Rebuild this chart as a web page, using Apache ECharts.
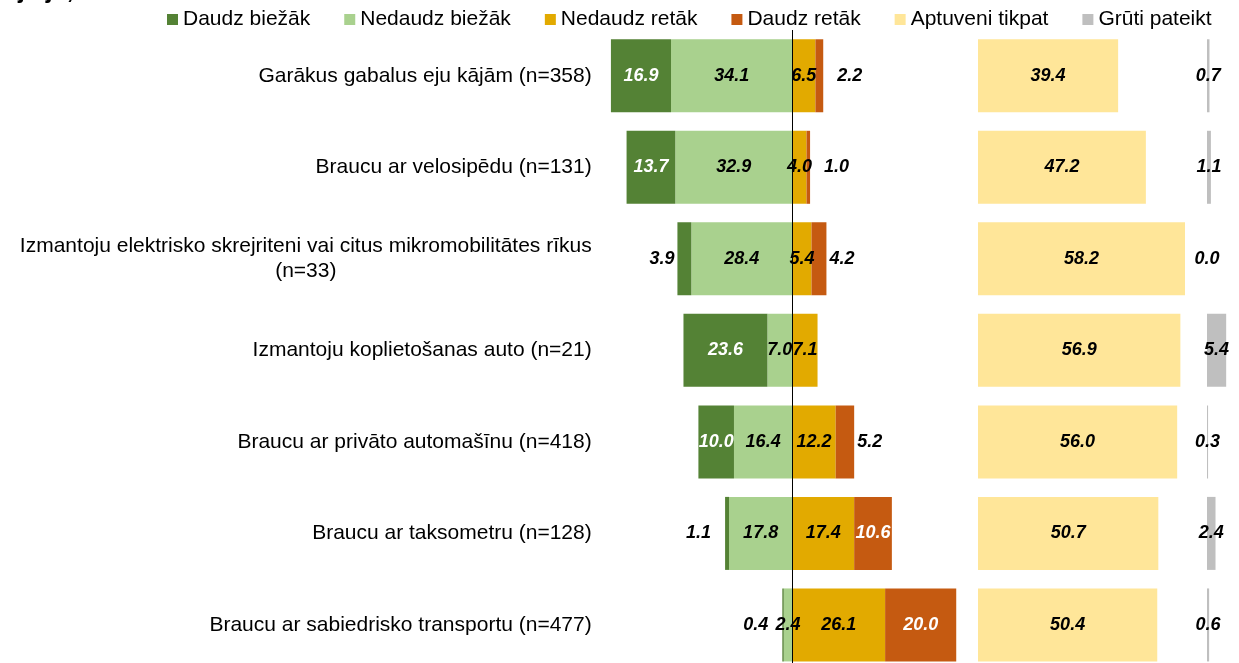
<!DOCTYPE html>
<html>
<head>
<meta charset="utf-8">
<script src="https://cdn.jsdelivr.net/npm/echarts@6/dist/echarts.min.js"></script>
<style>
  html, body { margin: 0; padding: 0; background: #fff; }
  #main { width: 1239px; height: 663px; }
</style>
</head>
<body>
<div id="main"></div>
<script>
// kategorijas (no augšas uz leju)
var categories = [
    'Garākus gabalus eju kājām (n=358)',
    'Braucu ar velosipēdu (n=131)',
    'Izmantoju elektrisko skrejriteni vai citus mikromobilitātes rīkus\n(n=33)',
    'Izmantoju koplietošanas auto (n=21)',
    'Braucu ar privāto automašīnu (n=418)',
    'Braucu ar taksometru (n=128)',
    'Braucu ar sabiedrisko transportu (n=477)'
];
var seriesNames = ['Daudz biežāk', 'Nedaudz biežāk', 'Nedaudz retāk', 'Daudz retāk', 'Aptuveni tikpat', 'Grūti pateikt'];
var daudzBiezak = [16.9, 13.7, 3.9, 23.6, 10.0, 1.1, 0.4];
var nedaudzBiezak = [34.1, 32.9, 28.4, 7.0, 16.4, 17.8, 2.4];
var nedaudzRetak = [6.5, 4.0, 5.4, 7.1, 12.2, 17.4, 26.1];
var daudzRetak = [2.2, 1.0, 4.2, null, 5.2, 10.6, 20.0];
var aptuveni = [39.4, 47.2, 58.2, 56.9, 56.0, 50.7, 50.4];
var gruti = [0.7, 1.1, 0.0, 5.4, 0.3, 2.4, 0.6];

var colors = ['#548235', '#a9d18e', '#e2aa00', '#c55a11', '#ffe699', '#bfbfbf'];
var FONT = "'Liberation Sans', Arial, sans-serif";

var valLabel = {
    show: true,
    fontFamily: FONT,
    fontSize: 18,
    fontWeight: 'bold',
    fontStyle: 'italic',
    color: '#000',
    formatter: function (p) { return Math.abs(p.value).toFixed(1); }
};

// mazās vērtības ārpus stabiņa, lielās - iekšā ar baltu tekstu
function sideData(arr, sign, side) {
    return arr.map(function (v) {
        if (v === null) return null;
        var lab;
        if (v >= 8) lab = {position: 'inside', color: '#fff'};
        else if (v >= 3) lab = {position: side, distance: 3};
        else lab = {position: side, distance: 14};
        return {value: sign * v, label: lab};
    });
}

var chart = echarts.init(document.getElementById('main'));
var barW = 73;

var option = {
    animation: false,
    color: colors,
    textStyle: {fontFamily: FONT},
    graphic: [{
        type: 'text',
        left: 18,
        top: -21,
        style: {text: 'ja jā, tad kā:', fontFamily: FONT, fontSize: 25, fontWeight: 'bold', fill: '#000'}
    }],
    legend: {
        data: seriesNames,
        left: 167,
        top: 9,
        padding: 0,
        icon: 'rect',
        itemWidth: 11,
        itemHeight: 11,
        itemGap: 34,
        textStyle: {fontFamily: FONT, fontSize: 21, color: '#000'}
    },
    grid: [
        {left: 596.7, top: 30, width: 373.4, height: 640.7, outerBoundsMode: 'none'},
        {left: 978, top: 30, width: 213.4, height: 640.7, outerBoundsMode: 'none'},
        {left: 1207, top: 30, width: 28.4, height: 640.7, outerBoundsMode: 'none'}
    ],
    xAxis: [
        {gridIndex: 0, type: 'value', min: -55, max: 50, show: false},
        {gridIndex: 1, type: 'value', min: 0, max: 60, show: false},
        {gridIndex: 2, type: 'value', min: 0, max: 8, show: false}
    ],
    yAxis: [
        {
            gridIndex: 0, type: 'category', data: categories, inverse: true,
            axisLine: {show: false}, axisTick: {show: false}, splitLine: {show: false},
            axisLabel: {
                margin: 5, fontFamily: FONT, fontSize: 21, color: '#000', lineHeight: 25,
                formatter: function (v) {
                    var parts = v.split('\n');
                    if (parts.length === 1) return v;
                    return parts[0] + '\n{c|' + parts[1] + '}';
                },
                rich: {c: {fontFamily: FONT, fontSize: 21, color: '#000', align: 'center'}}
            }
        },
        {gridIndex: 1, type: 'category', data: categories, inverse: true, show: false},
        {gridIndex: 2, type: 'category', data: categories, inverse: true, show: false}
    ],
    series: [
        {
            name: 'Nedaudz biežāk', type: 'bar', stack: 'a', barWidth: barW,
            itemStyle: {color: colors[1]},
            label: valLabel,
            data: nedaudzBiezak.map(function (v) { return -v; }),
            markLine: {
                silent: true, symbol: 'none', label: {show: false},
                lineStyle: {color: '#000', width: 1, type: 'solid'},
                data: [{xAxis: 0}]
            }
        },
        {
            name: 'Daudz biežāk', type: 'bar', stack: 'a', barWidth: barW,
            itemStyle: {color: colors[0]},
            label: valLabel,
            data: sideData(daudzBiezak, -1, 'left')
        },
        {
            name: 'Nedaudz retāk', type: 'bar', stack: 'a', barWidth: barW,
            itemStyle: {color: colors[2]},
            label: valLabel,
            data: nedaudzRetak
        },
        {
            name: 'Daudz retāk', type: 'bar', stack: 'a', barWidth: barW,
            itemStyle: {color: colors[3]},
            label: valLabel,
            data: sideData(daudzRetak, 1, 'right')
        },
        {
            name: 'Aptuveni tikpat', type: 'bar', barWidth: barW,
            xAxisIndex: 1, yAxisIndex: 1,
            itemStyle: {color: colors[4]},
            label: valLabel,
            data: aptuveni
        },
        {
            name: 'Grūti pateikt', type: 'bar', barWidth: barW,
            xAxisIndex: 2, yAxisIndex: 2,
            itemStyle: {color: colors[5]},
            label: valLabel,
            data: gruti
        }
    ]
};
chart.setOption(option);
</script>
</body>
</html>
